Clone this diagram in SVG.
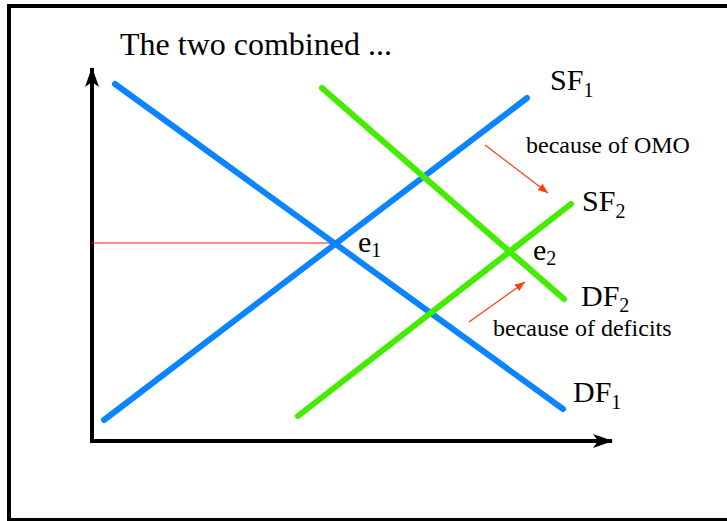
<svg xmlns="http://www.w3.org/2000/svg" width="727" height="521" viewBox="0 0 727 521">
<style>
text{font-family:"Liberation Serif","Times New Roman",serif;fill:#000}
.lbl{font-size:30px}
.sub{font-size:20px}
.note{font-size:24px}
.blue{stroke:#0a84ff;stroke-width:6;stroke-linecap:round;fill:none}
.green{stroke:#44ec00;stroke-width:6;stroke-linecap:round;fill:none}
.axis{stroke:#000;stroke-width:4;fill:none}
.redarrow{stroke:#ff3b14;stroke-width:1.2;fill:none}
</style>
<defs>
<marker id="ah" viewBox="0 0 20 14" refX="19" refY="7" markerWidth="20" markerHeight="14" markerUnits="userSpaceOnUse" orient="auto">
<path d="M0,0 L20,7 L0,14 L5,7 Z" fill="#000"/>
</marker>
<marker id="rh" viewBox="0 0 10 8" refX="10" refY="4" markerWidth="10" markerHeight="8" markerUnits="userSpaceOnUse" orient="auto">
<path d="M0,0 L10,4 L0,8 Z" fill="#ff3b14"/>
</marker>
</defs>
<rect x="9" y="6" width="740" height="514" fill="#fff" stroke="#000" stroke-width="4"/>
<g id="title"><text x="120" y="55" font-size="32">The two combined ...</text></g>
<g id="connectors">
<line class="axis" x1="92" y1="443" x2="92" y2="68" marker-end="url(#ah)"/>
<line class="axis" x1="90" y1="441" x2="612" y2="441" marker-end="url(#ah)"/>
<line x1="92" y1="243" x2="333" y2="243" stroke="#ff1a00" stroke-width="1.2"/>
<line class="redarrow" x1="485" y1="145" x2="548" y2="193" marker-end="url(#rh)"/>
<line class="redarrow" x1="469" y1="322" x2="525" y2="282" marker-end="url(#rh)"/>
</g>
<g id="DF1"><line class="blue" x1="115" y1="84" x2="563" y2="409"/>
<text class="lbl" x="573" y="402">DF<tspan class="sub" dy="7">1</tspan></text></g>
<g id="SF1"><line class="blue" x1="104" y1="420" x2="527" y2="98"/>
<text class="lbl" x="550" y="90">SF<tspan class="sub" dy="7">1</tspan></text></g>
<g id="DF2"><line class="green" x1="322" y1="88" x2="564" y2="299"/>
<text class="lbl" x="581" y="306">DF<tspan class="sub" dy="6">2</tspan></text></g>
<g id="SF2"><line class="green" x1="298" y1="416" x2="571" y2="204"/>
<text class="lbl" x="582" y="211">SF<tspan class="sub" dy="7">2</tspan></text></g>
<g id="e1"><text class="lbl" x="358" y="252">e<tspan class="sub" dy="5">1</tspan></text></g>
<g id="e2"><text class="lbl" x="533" y="260">e<tspan class="sub" dy="5">2</tspan></text></g>
<g id="omo"><text class="note" x="526" y="153">because of OMO</text></g>
<g id="deficits"><text class="note" x="493" y="336">because of deficits</text></g>
</svg>
